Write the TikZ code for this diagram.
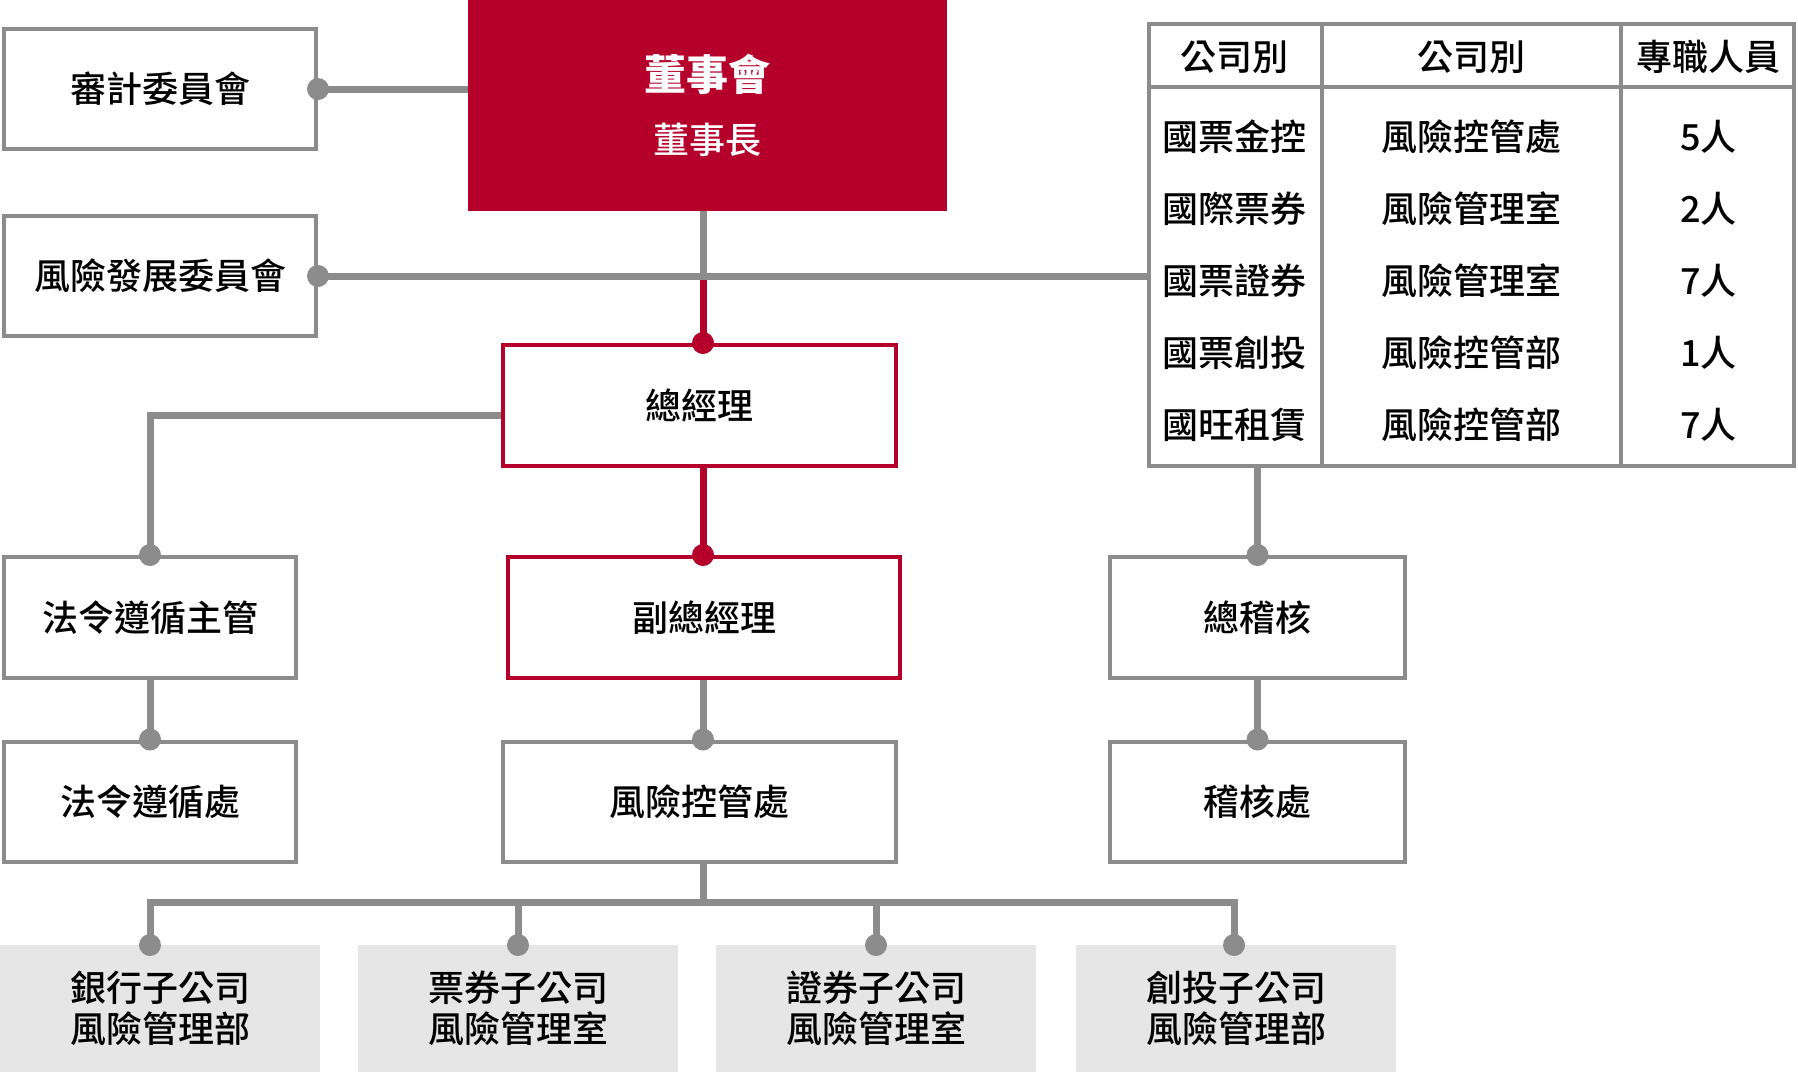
\documentclass[tikz,border=0pt]{standalone}
\usepackage{fontspec}
\setmainfont{Noto Sans CJK TC}
\newfontfamily\medfont{Noto Sans CJK TC Medium}
\usepackage{tikz}
\usetikzlibrary{calc,positioning}

\definecolor{boardred}{RGB}{181,0,43}
\definecolor{linegray}{RGB}{140,140,140}
\definecolor{subgray}{RGB}{230,230,230}

\tikzset{
  unit/.style={draw=linegray, line width=2pt, fill=white, inner sep=0pt, font=\medfont\fontsize{18}{21}\selectfont},
  redunit/.style={unit, draw=boardred},
  subunit/.style={fill=subgray, inner sep=0pt, minimum width=160pt, minimum height=63.5pt},
  subtext/.style={align=center, inner sep=0pt, font=\medfont\fontsize{18}{20.5}\selectfont},
  cell/.style={inner sep=0pt, font=\medfont\fontsize{18}{21}\selectfont},
  link/.style={draw=linegray, line width=3.5pt},
  redlink/.style={link, draw=boardred},
}

\begin{document}
\begin{tikzpicture}[x=0.5pt, y=-0.5pt]
        \useasboundingbox (0,0) rectangle (1798,1072);
        % board and committees
        \node[fill=boardred, inner sep=0pt, minimum width=239.5pt, minimum height=105.5pt, text=white, align=center, font=\medfont\fontsize{18}{31.7}\selectfont] (board) at (707.5,105.5) {{\normalfont\fontsize{21}{31.7}\selectfont\bfseries 董事會}\\董事長};
        \node[unit, minimum width=156pt, minimum height=60pt] (audit) at (160,89) {審計委員會};
        \node[unit, minimum width=156pt, minimum height=60pt] (riskcom) at (160,276) {風險發展委員會};
        % management line
        \coordinate (spine) at (703,0);
        \node[redunit, minimum width=196.5pt, minimum height=60.5pt] (gm) at (699.5,405.5) {總經理};
        \node[redunit, minimum width=196pt, minimum height=60.5pt] (vgm) at (704,617.5) {副總經理};
        \node[unit, minimum width=196.5pt, minimum height=60pt] (riskdept) at (699.5,801.5) {風險控管處};
        \node[unit, minimum width=146pt, minimum height=60.5pt] (lawhead) at (150,617.5) {法令遵循主管};
        \node[unit, minimum width=146pt, minimum height=60pt] (lawdept) at (150,801.5) {法令遵循處};
        \node[unit, minimum width=147.5pt, minimum height=60.5pt] (chiefaudit) at (1257.5,617.5) {總稽核};
        \node[unit, minimum width=147.5pt, minimum height=60pt] (auditdept) at (1257.5,801.5) {稽核處};
        % table
        \node[draw=linegray, line width=2pt, inner sep=0pt, minimum width=322.5pt, minimum height=221pt] (tbl) at (1471.5,245) {};
        \draw[linegray, line width=2pt] (1147,87) -- (1796,87);
        \draw[linegray, line width=2pt] (1322,22) -- (1322,468);
        \draw[linegray, line width=2pt] (1621,22) -- (1621,468);
        \node[cell] (h1) at (1234.5,57) {公司別};
        \node[cell] (h2) at (1471.5,57) {公司別};
        \node[cell] (h3) at (1708.5,57) {專職人員};
        \node[cell] (r1a) at (1234.5,137) {國票金控};
        \node[cell] (r1b) at (1471.5,137) {風險控管處};
        \node[cell] (r1c) at (1708.5,137) {5人};
        \node[cell] (r2a) at (1234.5,209) {國際票券};
        \node[cell] (r2b) at (1471.5,209) {風險管理室};
        \node[cell] (r2c) at (1708.5,209) {2人};
        \node[cell] (r3a) at (1234.5,281) {國票證券};
        \node[cell] (r3b) at (1471.5,281) {風險管理室};
        \node[cell] (r3c) at (1708.5,281) {7人};
        \node[cell] (r4a) at (1234.5,353) {國票創投};
        \node[cell] (r4b) at (1471.5,353) {風險控管部};
        \node[cell] (r4c) at (1708.5,353) {1人};
        \node[cell] (r5a) at (1234.5,425) {國旺租賃};
        \node[cell] (r5b) at (1471.5,425) {風險控管部};
        \node[cell] (r5c) at (1708.5,425) {7人};
        % subsidiaries
        \node[subunit, anchor=north] (bank) at (160,945) {};
        \node[subunit, anchor=north] (bill) at (518,945) {};
        \node[subunit, anchor=north] (sec) at (876,945) {};
        \node[subunit, anchor=north] (venture) at (1236,945) {};
        \node[subtext] (banktxt) at (160,1008.5) {銀行子公司\\風險管理部};
        \node[subtext] (billtxt) at (518,1008.5) {票券子公司\\風險管理室};
        \node[subtext] (sectxt) at (876,1008.5) {證券子公司\\風險管理室};
        \node[subtext] (venturetxt) at (1236,1008.5) {創投子公司\\風險管理部};
        % connectors
        \coordinate (fork) at (riskcom.east -| spine);
        \draw[link] (board.south -| spine) -- (fork);
        \draw[redlink] (fork) -- (gm.north -| spine);
        \fill[boardred] (gm.north -| spine) circle (5.5pt);
        \draw[link] (audit.east) -- (audit.east -| board.west);
        \fill[linegray] (audit.east) circle (5.5pt);
        \draw[link] (riskcom.east) -- (riskcom.east -| tbl.west);
        \fill[linegray] (riskcom.east) circle (5.5pt);
        \draw[link] ([yshift=-5pt]gm.west) -| (lawhead.north);
        \fill[linegray] (lawhead.north) circle (5.5pt);
        \draw[link] (lawhead.south) -- (lawdept.north);
        \fill[linegray] (lawdept.north) circle (5.5pt);
        \draw[redlink] (gm.south -| spine) -- (vgm.north -| spine);
        \fill[boardred] (vgm.north -| spine) circle (5.5pt);
        \draw[link] (vgm.south -| spine) -- (riskdept.north -| spine);
        \fill[linegray] (riskdept.north -| spine) circle (5.5pt);
        \draw[link] (tbl.south -| chiefaudit.north) -- (chiefaudit.north);
        \fill[linegray] (chiefaudit.north) circle (5.5pt);
        \draw[link] (chiefaudit.south) -- (auditdept.north);
        \fill[linegray] (auditdept.north) circle (5.5pt);
        % bus to subsidiaries
        \coordinate (bus) at (703,902);
        \draw[link] (riskdept.south -| spine) -- (bus);
        \draw[link] ([xshift=-5pt]bank.north) |- (bus) -| ([xshift=-1pt]venture.north);
        \draw[link] (bill.north) -- (bill.north |- bus);
        \draw[link] (sec.north) -- (sec.north |- bus);
        \fill[linegray] ([xshift=-5pt]bank.north) circle (5.5pt);
        \fill[linegray] (bill.north) circle (5.5pt);
        \fill[linegray] (sec.north) circle (5.5pt);
        \fill[linegray] ([xshift=-1pt]venture.north) circle (5.5pt);
\end{tikzpicture}
\end{document}
